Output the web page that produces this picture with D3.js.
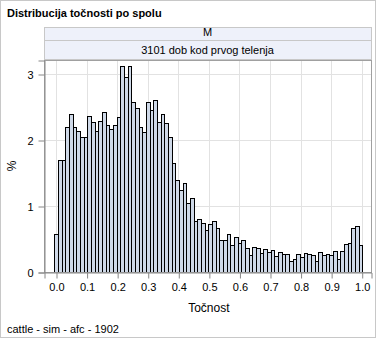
<!DOCTYPE html>
<html><head><meta charset="utf-8">
<script src="https://cdn.jsdelivr.net/npm/d3@7"></script>
<style>html,body{margin:0;padding:0;background:#fff}svg{display:block;font-family:"Liberation Sans",Arial,sans-serif}</style>
</head><body>
<script>
// Bin width 0.012, bin centers k*0.012 (k = 0..83); values in %
const binWidth = 0.012;
const percents = [
 0.58,1.69,1.70,2.19,2.40,2.20,2.13,2.05,2.04,2.37,
 2.28,2.14,2.29,2.43,2.22,2.16,2.22,2.35,3.12,2.95,
 3.12,2.57,2.49,2.20,2.12,2.57,2.46,2.60,2.27,2.40,
 2.25,2.05,1.65,1.39,1.25,1.35,1.05,1.12,0.78,0.81,
 0.75,0.64,0.73,0.78,0.67,0.48,0.48,0.58,0.41,0.53,
 0.44,0.49,0.37,0.26,0.38,0.37,0.29,0.35,0.31,0.33,
 0.24,0.31,0.27,0.28,0.17,0.20,0.28,0.23,0.29,0.28,
 0.26,0.17,0.31,0.26,0.28,0.26,0.32,0.20,0.32,0.43,
 0.44,0.67,0.69,0.41
];
const binCenters = percents.map((_, i) => +(i * binWidth).toFixed(3));
const xTicks = [0,0.1,0.2,0.3,0.4,0.5,0.6,0.7,0.8,0.9,1.0];
const yTicks = [0,1,2,3];
const titleText = "Distribucija točnosti po spolu";
const header1 = "M";
const header2 = "3101 dob kod prvog telenja";
const xLabel = "Točnost";
const yLabel = "%";
const footnote = "cattle - sim - afc - 1902";

const W = 378, H = 340;
const L = 44, R = 371, T = 60, B = 272;

const svg = d3.select("body").append("svg").attr("width", W).attr("height", H);

// outer frame
svg.append("rect").attr("x", 0.5).attr("y", 0.5).attr("width", W - 3).attr("height", H - 3)
  .attr("fill", "#fff").attr("stroke", "#c8c8c8");

svg.append("text").attr("x", 7).attr("y", 17).attr("font-size", 11).attr("font-weight", "bold")
  .attr("fill", "#000").text(titleText);

// header cells
const hdr = [[27, 40, header1, 36.3], [40, 59, header2, 54.3]];
hdr.forEach(([y0, y1, t, by]) => {
  svg.append("rect").attr("x", L + 0.5).attr("y", y0 + 0.5).attr("width", R - L).attr("height", y1 - y0)
    .attr("fill", "#eef1fa").attr("stroke", "#c8c8c8");
  svg.append("text").attr("x", (L + R) / 2).attr("y", by).attr("text-anchor", "middle")
    .attr("font-size", 11).attr("fill", "#000").text(t);
});

const x = d3.scaleLinear().domain([-0.0393, 1.0304]).range([L, R]);
const y = d3.scaleLinear().domain([0, (B - T) / 66]).range([B, T]);

// gridlines
const g = svg.append("g");
g.selectAll("line.vx").data(xTicks).enter().append("line")
  .attr("x1", d => Math.round(x(d)) + 0.5).attr("x2", d => Math.round(x(d)) + 0.5)
  .attr("y1", T).attr("y2", B).attr("stroke", "#e2e2e2");
g.selectAll("line.hy").data(yTicks.filter(d => d > 0)).enter().append("line")
  .attr("y1", d => Math.round(y(d)) + 0.5).attr("y2", d => Math.round(y(d)) + 0.5)
  .attr("x1", L).attr("x2", R).attr("stroke", "#e2e2e2");

// bars (edges snapped to pixels)
const px = v => Math.round(x(v)) + 0.5;
svg.append("g").attr("shape-rendering", "crispEdges").selectAll("rect").data(percents).enter().append("rect")
  .attr("x", (d, i) => px(binCenters[i] - binWidth / 2))
  .attr("width", (d, i) => px(binCenters[i] + binWidth / 2) - px(binCenters[i] - binWidth / 2))
  .attr("y", d => Math.round(y(d)) + 0.5)
  .attr("height", d => Math.round(y(0)) - Math.round(y(d)))
  .attr("fill", "#cfd9e8").attr("stroke", "#000").attr("stroke-width", 1);

// plot frame
svg.append("rect").attr("x", L + 0.5).attr("y", T + 0.5).attr("width", R - L).attr("height", B - T)
  .attr("fill", "none").attr("stroke", "#a0a0a0");

// axes
const xAxis = d3.axisBottom(x).tickValues(xTicks).tickFormat(d3.format(".1f")).tickSizeOuter(0).tickSize(6).tickPadding(5);
const xa = svg.append("g").attr("transform", `translate(0.5,${B + 0.5})`).call(xAxis);
xa.select(".domain").attr("stroke", "#888");
xa.selectAll(".tick line").attr("stroke", "#888");
xa.selectAll("text").attr("font-size", 11).attr("font-family", "Liberation Sans, Arial, sans-serif").attr("fill", "#000");

const yAxis = d3.axisLeft(y).tickValues(yTicks).tickFormat(d3.format("d")).tickSizeOuter(0).tickSize(6).tickPadding(5);
const ya = svg.append("g").attr("transform", `translate(${L + 0.5},0.5)`).call(yAxis);
ya.select(".domain").attr("stroke", "#888");
ya.selectAll(".tick line").attr("stroke", "#888");
ya.selectAll("text").attr("font-size", 11).attr("font-family", "Liberation Sans, Arial, sans-serif").attr("fill", "#000");

svg.append("text").attr("x", (x(0) + x(1)) / 2).attr("y", 312).attr("text-anchor", "middle")
  .attr("font-size", 12).attr("fill", "#000").text(xLabel);
svg.append("text").attr("transform", `translate(16,${(T + B) / 2}) rotate(-90)`).attr("text-anchor", "middle")
  .attr("font-size", 12).attr("fill", "#000").text(yLabel);

svg.append("text").attr("x", 7).attr("y", 333).attr("font-size", 11).attr("fill", "#000").text(footnote);
</script>
</body></html>
